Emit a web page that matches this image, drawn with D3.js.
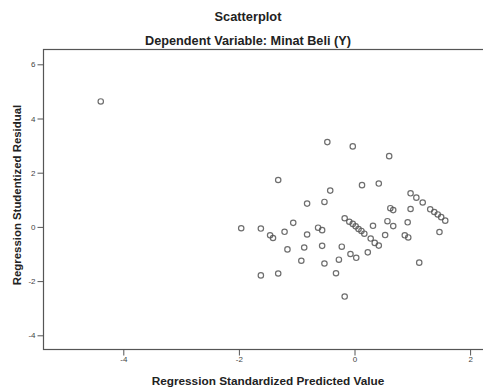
<!doctype html>
<html lang="en">
<head>
  <meta charset="utf-8" />
  <title>Scatterplot</title>
  <script src="https://d3js.org/d3.v7.min.js"></script>
  <style>
    body { margin: 0; background: #fff; }
    text { font-family: "Liberation Sans", Arial, sans-serif; }
    .tick text { font-size: 8px; fill: #444; }
    .tick line { stroke: #555; }
    .domain { stroke: none; }
  </style>
</head>
<body>
<script type="text/javascript">

  // standardized predicted value (x) and studentized residual (y)
  var predicted = [-4.39, -1.96, -1.62, -1.62, -1.46, -1.41, -1.32, -1.32, -1.21, -1.16,
                   -1.06, -0.92, -0.87, -0.82, -0.82, -0.63, -0.56, -0.56, -0.52, -0.52,
                   -0.47, -0.42, -0.32, -0.27, -0.22, -0.17, -0.17, -0.09, -0.03, 0.02,
                   0.07, 0.12, 0.17, -0.07, 0.03, -0.03, 0.13, 0.42, 0.60, 0.23,
                   0.28, 0.35, 0.42, 0.32, 0.53, 0.57, 0.67, 0.62, 0.67, 0.87,
                   0.93, 0.92, 0.97, 0.97, 1.07, 1.18, 1.31, 1.38, 1.44, 1.50,
                   1.57, 1.47, 1.12];
  var residual = [4.63, -0.05, -0.06, -1.79, -0.31, -0.41, -1.72, 1.73, -0.18, -0.83,
                  0.15, -1.25, -0.76, -0.28, 0.86, -0.03, -0.12, -0.70, -1.35, 0.92,
                  3.13, 1.34, -1.71, -1.21, -0.73, -2.57, 0.32, 0.19, 0.11, 0.02,
                  -0.08, -0.15, -0.25, -1.00, -1.14, 2.97, 1.54, 1.60, 2.61, -0.94,
                  -0.43, -0.59, -0.69, 0.04, -0.30, 0.21, 0.03, 0.69, 0.62, -0.31,
                  -0.39, 0.17, 0.66, 1.24, 1.08, 0.90, 0.65, 0.55, 0.46, 0.36,
                  0.23, -0.19, -1.32];
  var xTicks = [-4, -2, 0, 2];
  var yTicks = [-4, -2, 0, 2, 4, 6];

  var width = 483, height = 389;
  var margin = {top: 49.5, right: -2, bottom: 39, left: 43};

  var x = d3.scaleLinear()
    .domain([-4, 2])
    .range([123.3, 470.1]);
  var y = d3.scaleLinear()
    .domain([-4, 6])
    .range([335.3, 64.3]);

  var svg = d3.select("body").append("svg")
    .attr("width", width)
    .attr("height", height);

  var plotBottom = height - margin.bottom - 0.5;

  // frame
  svg.append("rect")
    .attr("x", margin.left + 0.5)
    .attr("y", margin.top)
    .attr("width", width - margin.left - margin.right)
    .attr("height", plotBottom - margin.top)
    .attr("fill", "none")
    .attr("stroke", "#555")
    .attr("stroke-width", 1.2);

  // plain hyphen minus like the original labels
  var fmt = function(d) { return String(d); };

  var xAxis = d3.axisBottom(x).tickValues(xTicks).tickFormat(fmt).tickSize(6).tickPadding(1);
  var yAxis = d3.axisLeft(y).tickValues(yTicks).tickFormat(fmt).tickSize(6).tickPadding(2);

  svg.append("g")
    .attr("transform", "translate(0," + plotBottom + ")")
    .call(xAxis);

  svg.append("g")
    .attr("transform", "translate(" + (margin.left + 0.5) + ",0)")
    .call(yAxis);

  // points
  var data = predicted.map(function(d, i) { return {x: d, y: residual[i]}; });

  svg.append("g")
    .selectAll("circle")
    .data(data)
    .enter().append("circle")
      .attr("cx", function(d) { return x(d.x); })
      .attr("cy", function(d) { return y(d.y); })
      .attr("r", 2.7)
      .attr("fill", "none")
      .attr("stroke", "#555")
      .attr("stroke-opacity", 0.85)
      .attr("stroke-width", 1.2);

  // titles
  svg.append("text")
    .attr("x", 248)
    .attr("y", 20.5)
    .attr("text-anchor", "middle")
    .attr("font-weight", "bold")
    .attr("font-size", "12.8px")
    .attr("fill", "#222")
    .text("Scatterplot");

  svg.append("text")
    .attr("x", 248)
    .attr("y", 45)
    .attr("text-anchor", "middle")
    .attr("font-weight", "bold")
    .attr("font-size", "12.7px")
    .attr("fill", "#222")
    .text("Dependent Variable: Minat Beli (Y)");

  svg.append("text")
    .attr("x", 268)
    .attr("y", 385)
    .attr("text-anchor", "middle")
    .attr("font-weight", "bold")
    .attr("font-size", "11.8px")
    .attr("fill", "#222")
    .text("Regression Standardized Predicted Value");

  svg.append("text")
    .attr("transform", "translate(21,195) rotate(-90)")
    .attr("text-anchor", "middle")
    .attr("font-weight", "bold")
    .attr("font-size", "11.4px")
    .attr("fill", "#222")
    .text("Regression Studentized Residual");

</script>
</body>
</html>
